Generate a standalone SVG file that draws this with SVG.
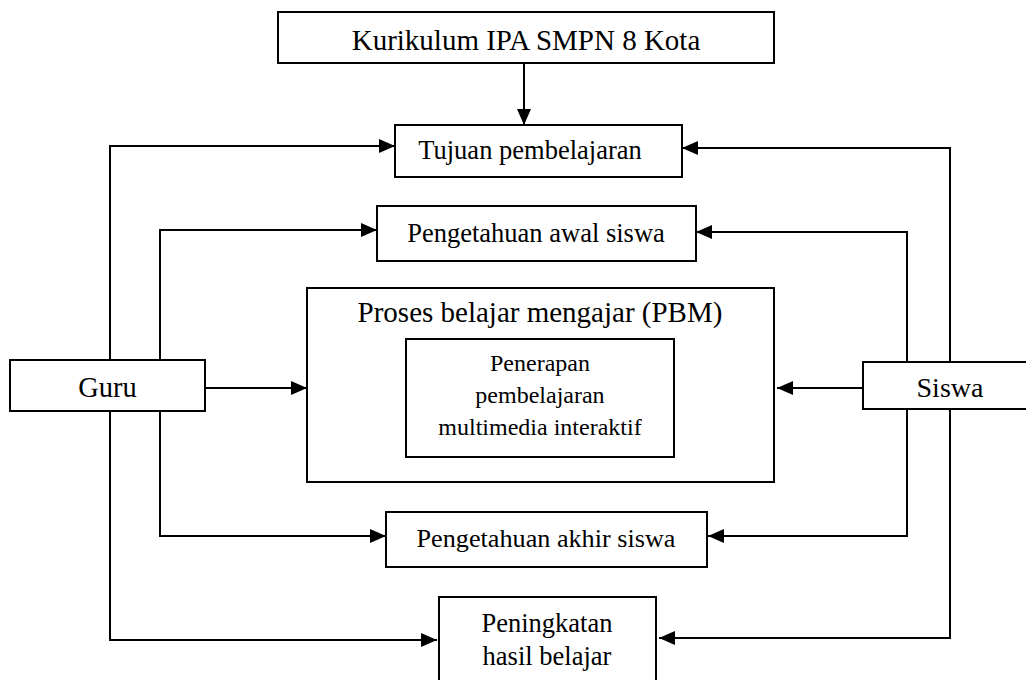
<svg xmlns="http://www.w3.org/2000/svg" width="1026" height="680" viewBox="0 0 1026 680">
<style>
.box{fill:#fff;stroke:#000;stroke-width:2}
.t{font-family:"Liberation Serif","Times New Roman",serif;fill:#000;text-anchor:middle}
.c{fill:none;stroke:#000;stroke-width:2}
</style>
<defs>
<marker id="ah" markerUnits="userSpaceOnUse" markerWidth="16" markerHeight="14" refX="16" refY="7" orient="auto">
<path d="M0,0 L16,7 L0,14 z" fill="#000"/>
</marker>
</defs>
<rect width="1026" height="680" fill="#fff"/>
<g id="connectors">
<path class="c" d="M524,63 V125" marker-end="url(#ah)"/>
<path class="c" d="M110,360 V146 H395" marker-end="url(#ah)"/>
<path class="c" d="M950,362 V148 H682" marker-end="url(#ah)"/>
<path class="c" d="M160,360 V230 H377" marker-end="url(#ah)"/>
<path class="c" d="M907,362 V232 H696" marker-end="url(#ah)"/>
<path class="c" d="M205,388 H307" marker-end="url(#ah)"/>
<path class="c" d="M863,388 H777" marker-end="url(#ah)"/>
<path class="c" d="M160,411 V536 H386" marker-end="url(#ah)"/>
<path class="c" d="M907,409 V536 H708" marker-end="url(#ah)"/>
<path class="c" d="M110,411 V640 H437" marker-end="url(#ah)"/>
<path class="c" d="M950,409 V638 H659" marker-end="url(#ah)"/>
</g>
<g id="kurikulum">
<rect class="box" x="278" y="12" width="496" height="51"/>
<text class="t" x="526" y="50" font-size="29">Kurikulum IPA SMPN 8 Kota</text>
</g>
<g id="tujuan">
<rect class="box" x="395" y="125" width="287" height="52"/>
<text class="t" x="530" y="159" font-size="26.5">Tujuan pembelajaran</text>
</g>
<g id="awal">
<rect class="box" x="377" y="206" width="319" height="55"/>
<text class="t" x="536" y="242" font-size="26.5">Pengetahuan awal siswa</text>
</g>
<g id="pbm">
<rect class="box" x="307" y="288" width="467" height="194"/>
<text class="t" x="540" y="322" font-size="29">Proses belajar mengajar (PBM)</text>
</g>
<g id="penerapan">
<rect class="box" x="406" y="339" width="268" height="118"/>
<text class="t" x="540" y="371" font-size="24">Penerapan</text>
<text class="t" x="540" y="403" font-size="24">pembelajaran</text>
<text class="t" x="540" y="435" font-size="24">multimedia interaktif</text>
</g>
<g id="guru">
<rect class="box" x="10" y="360" width="195" height="51"/>
<text class="t" x="107.5" y="397" font-size="28.5">Guru</text>
</g>
<g id="siswa">
<rect class="box" x="863" y="362" width="174" height="47"/>
<text class="t" x="950" y="397" font-size="28">Siswa</text>
</g>
<g id="akhir">
<rect class="box" x="386" y="512" width="321" height="55"/>
<text class="t" x="546" y="547" font-size="26.2">Pengetahuan akhir siswa</text>
</g>
<g id="peningkatan">
<rect class="box" x="439" y="597" width="217" height="90"/>
<text class="t" x="547" y="632" font-size="26.5">Peningkatan</text>
<text class="t" x="547" y="665" font-size="26.5">hasil belajar</text>
</g>
</svg>
